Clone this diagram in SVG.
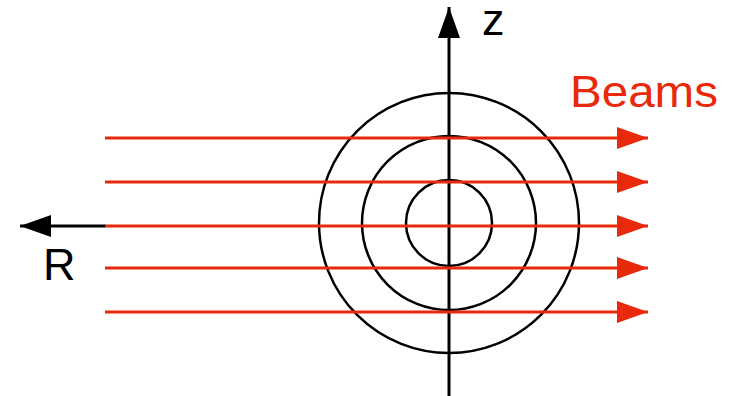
<svg xmlns="http://www.w3.org/2000/svg" width="737" height="396" viewBox="0 0 737 396">
<style>
.circ{fill:none;stroke:#000;stroke-width:2.5}
.beam{stroke:#e8290b;stroke-width:3}
.axis{stroke:#000;stroke-width:3}
.lbl{font-family:"Liberation Sans",Arial,sans-serif;font-size:45px}
</style>
<defs>
<marker id="ra" markerUnits="userSpaceOnUse" markerWidth="32" markerHeight="24" refX="31" refY="12" orient="auto"><path d="M0,1 L31,12 L0,23 Z" fill="#e8290b"/></marker>
<marker id="ka" markerUnits="userSpaceOnUse" markerWidth="32" markerHeight="24" refX="31" refY="12" orient="auto"><path d="M0,1 L31,12 L0,23 Z" fill="#000"/></marker>
</defs>
<g id="rings">
<circle class="circ" cx="449" cy="223" r="130"/>
<circle class="circ" cx="449" cy="223" r="87"/>
<circle class="circ" cx="449" cy="223" r="43"/>
</g>
<g id="connectors">
<line class="axis" x1="449" y1="396" x2="449" y2="7" marker-end="url(#ka)"/>
<line class="axis" x1="106" y1="226" x2="20" y2="226" marker-end="url(#ka)"/>
<line class="beam" x1="105" y1="138" x2="648" y2="138" marker-end="url(#ra)"/>
<line class="beam" x1="105" y1="182" x2="648" y2="182" marker-end="url(#ra)"/>
<line class="beam" x1="105" y1="226" x2="648" y2="226" marker-end="url(#ra)"/>
<line class="beam" x1="105" y1="268" x2="648" y2="268" marker-end="url(#ra)"/>
<line class="beam" x1="105" y1="312" x2="648" y2="312" marker-end="url(#ra)"/>
</g>
<g id="labels">
<text class="lbl" x="482" y="35" font-size="44">z</text>
<text class="lbl" x="570" y="107" fill="#e8290b" font-size="46" textLength="148" lengthAdjust="spacingAndGlyphs">Beams</text>
<text class="lbl" x="43" y="280">R</text>
</g>
</svg>
